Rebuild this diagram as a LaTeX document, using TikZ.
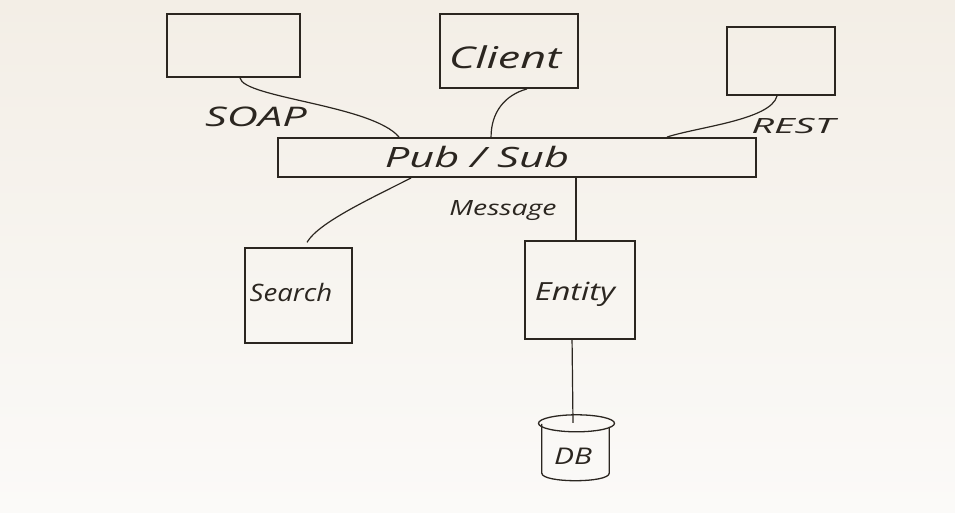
\documentclass[tikz,border=0pt]{standalone}
\usepackage{graphicx}
\usepackage{fontspec}
\setmainfont{Open Sans}
\usetikzlibrary{calc}
\definecolor{ink}{HTML}{2B2620}
\definecolor{paperT}{HTML}{F3EEE6}
\definecolor{paperB}{HTML}{FBFAF8}
\tikzset{
  box/.style={draw=ink, line width=1.9pt, rectangle, inner sep=0pt},
  thinbox/.style={draw=ink, line width=1.3pt, rectangle, inner sep=0pt},
  wire/.style={draw=ink, line width=1.2pt},
  dbline/.style={draw=ink, line width=1.3pt},
  hand/.style={text=ink, inner sep=0pt},
}
\newcommand{\hw}[3]{\scalebox{#2}[1]{\fontsize{#1}{#1}\selectfont\itshape #3}}
\begin{document}
\begin{tikzpicture}[x=1pt,y=-1pt]
\useasboundingbox (0,0) rectangle (955,513);
\shade[top color=paperT, bottom color=paperB] (0,0) rectangle (955,513);

% boxes
\node[box, minimum width=133pt, minimum height=63pt] (soapbox) at (233.5,45.5) {};
\node[box, minimum width=138pt, minimum height=74pt] (client) at (509,51) {};
\node[hand] (clientlbl) at (505,57) {\hw{30}{1.5}{Client}};
\node[box, minimum width=108pt, minimum height=68pt] (restbox) at (781,61) {};
\node[box, minimum width=478pt, minimum height=39pt] (bus) at (517,157.5) {};
\node[hand] (buslbl) at (477,157) {\hw{28}{1.55}{Pub / Sub}};
\node[thinbox, minimum width=107pt, minimum height=95pt] (search) at (298.5,295.5) {};
\node[hand] (searchlbl) at (291,292) {\hw{24}{1.15}{Search}};
\node[box, minimum width=110pt, minimum height=98pt] (entity) at (580,290) {};
\node[hand] (entitylbl) at (575,294) {\hw{25}{1.3}{Entity}};

% database cylinder
\node[minimum width=77pt, minimum height=66pt, inner sep=0pt] (db) at (576.5,448) {};
\draw[dbline] ($(db.north)+(0,8.5)$) ellipse [x radius=38, y radius=8.5];
\draw[dbline] ($(db.north west)+(4,9)$) -- ($(db.south west)+(4,-8)$)
  .. controls ($(db.south west)+(4,2)$) and ($(db.south east)+(-6,2)$) .. ($(db.south east)+(-6,-8)$)
  -- ($(db.north east)+(-6,12)$);
\node[hand] (dblbl) at (573,456) {\hw{23}{1.3}{DB}};

% connector labels
\node[hand] (soaplbl) at (256,117) {\hw{27}{1.6}{SOAP}};
\node[hand] (restlbl) at (793,126) {\hw{21}{1.9}{REST}};
\node[hand] (msglbl) at (503,211) {\hw{21}{1.35}{Message}};

% connectors
\draw[wire] ($(soapbox.south)+(6.5,0)$) .. controls ($(soapbox.south)+(10,20)$) and ($(bus.north west)+(95,-32)$) .. ($(bus.north west)+(122,0)$);
\draw[wire] ($(client.south)+(18,0)$) .. controls ($(client.south)+(-4,6)$) and ($(bus.north west)+(214,-25)$) .. ($(bus.north west)+(214,0)$);
\draw[wire] ($(restbox.south)+(-4,0)$) .. controls ($(restbox.south)+(-10,24)$) and ($(bus.north west)+(420,-10)$) .. ($(bus.north west)+(390,0)$);
\draw[wire] ($(bus.south west)+(134,0)$) .. controls ($(bus.south west)+(95,20)$) and ($(search.north)+(20,-25)$) .. ($(search.north)+(8.5,-5)$);
\draw[wire] ($(bus.south west)+(299,0)$) -- ($(entity.north west)+(52,0)$);
\draw[wire] ($(entity.south west)+(48,0)$) -- ($(db.north)+(-3.5,8)$);
\end{tikzpicture}
\end{document}
